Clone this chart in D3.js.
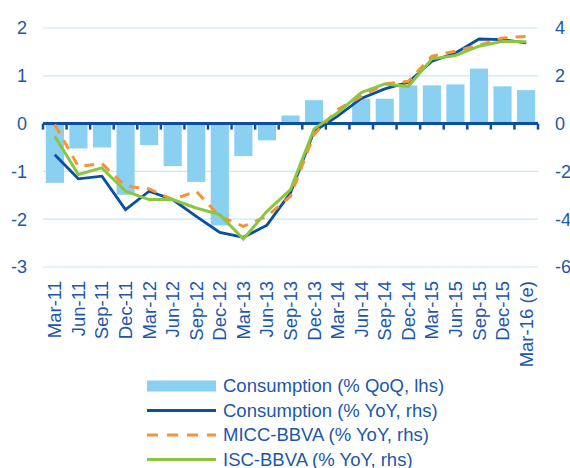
<!DOCTYPE html>
<html>
<head>
<meta charset="utf-8">
<script src="https://cdn.jsdelivr.net/npm/d3@7"></script>
<style>
  body { margin: 0; background: #fff; }
  text { font-family: "Liberation Sans", Arial, sans-serif; fill: #1b57ab; }
</style>
</head>
<body>
<div id="chart"></div>
<script>
// quarters on the x axis
var quarters = ["Mar-11","Jun-11","Sep-11","Dec-11","Mar-12","Jun-12","Sep-12","Dec-12",
  "Mar-13","Jun-13","Sep-13","Dec-13","Mar-14","Jun-14","Sep-14","Dec-14",
  "Mar-15","Jun-15","Sep-15","Dec-15","Mar-16 (e)"];

// consumption % QoQ (lhs)
var consQoQ = [-1.24,-0.52,-0.50,-1.49,-0.45,-0.89,-1.22,-2.13,-0.68,-0.35,0.17,0.49,
  0.0,0.52,0.52,0.80,0.80,0.82,1.15,0.78,0.70];

// consumption % YoY (rhs)
var consYoY = [-1.30,-2.31,-2.20,-3.60,-2.83,-3.18,-3.88,-4.55,-4.76,-4.25,-2.90,-0.32,
  0.31,1.05,1.45,1.73,2.61,2.96,3.54,3.51,3.38];

// MICC-BBVA % YoY (rhs)
var micc = [-0.04,-1.79,-1.67,-2.62,-2.73,-3.18,-2.83,-3.88,-4.30,-3.88,-3.04,-0.46,
  0.59,1.14,1.66,1.77,2.82,3.03,3.28,3.58,3.65];

// ISC-BBVA % YoY (rhs)
var isc = [-0.53,-2.13,-1.85,-2.83,-3.18,-3.18,-3.53,-3.81,-4.83,-3.67,-2.76,-0.22,
  0.45,1.30,1.66,1.56,2.71,2.85,3.24,3.44,3.42];

var leftTicks = [2, 1, 0, -1, -2, -3];
var rightTicks = [4, 2, 0, -2, -4, -6];

var legendItems = [
  {label: "Consumption (% QoQ, lhs)", type: "bar", color: "#8ad0f1"},
  {label: "Consumption (% YoY, rhs)", type: "line", color: "#0b4ea2"},
  {label: "MICC-BBVA (% YoY, rhs)", type: "dash", color: "#f7923a"},
  {label: "ISC-BBVA (% YoY, rhs)", type: "line", color: "#8cc63f"}
];

var width = 570, height = 468;
var plot = {left: 43, right: 538, top: 28, bottom: 267};

var svg = d3.select("#chart").append("svg")
  .attr("width", width)
  .attr("height", height);

var x = d3.scaleBand().domain(quarters).range([plot.left, plot.right]).paddingInner(0.23).paddingOuter(0.12);
var xb = d3.scaleBand().domain(quarters).range([plot.left, plot.right]);
var yL = d3.scaleLinear().domain([-3, 2]).range([plot.bottom, plot.top]);
var yR = d3.scaleLinear().domain([-6, 4]).range([plot.bottom, plot.top]);

// gridlines
svg.selectAll(".grid").data(leftTicks.filter(function(d){ return d !== 0; }))
  .enter().append("line")
  .attr("x1", plot.left).attr("x2", plot.right)
  .attr("y1", function(d){ return yL(d); })
  .attr("y2", function(d){ return yL(d); })
  .attr("stroke", "#c8e8f6").attr("stroke-width", 1.2);

// bars
svg.selectAll(".bar").data(consQoQ).enter().append("rect")
  .attr("x", function(d, i){ return x(quarters[i]); })
  .attr("width", x.bandwidth())
  .attr("y", function(d){ return Math.min(yL(d), yL(0)); })
  .attr("height", function(d){ return Math.abs(yL(d) - yL(0)); })
  .attr("fill", "#8ad0f1");

// zero axis with ticks at category boundaries
svg.append("line")
  .attr("x1", plot.left).attr("x2", plot.right)
  .attr("y1", yL(0)).attr("y2", yL(0))
  .attr("stroke", "#0b4ea2").attr("stroke-width", 3);

var bounds = quarters.map(function(q){ return xb(q); }).concat([plot.right]);
svg.selectAll(".tick").data(bounds).enter().append("line")
  .attr("x1", function(d){ return d; }).attr("x2", function(d){ return d; })
  .attr("y1", yL(0)).attr("y2", yL(0) + 6)
  .attr("stroke", "#0b4ea2").attr("stroke-width", 2.5);

// lines
var line = d3.line()
  .x(function(d, i){ return xb(quarters[i]) + xb.bandwidth() / 2; })
  .y(function(d){ return yR(d); });

svg.append("path").datum(consYoY).attr("d", line)
  .attr("fill", "none").attr("stroke", "#0b4ea2").attr("stroke-width", 2.8);
svg.append("path").datum(micc).attr("d", line)
  .attr("fill", "none").attr("stroke", "#f7923a").attr("stroke-width", 3)
  .attr("stroke-dasharray", "10,8");
svg.append("path").datum(isc).attr("d", line)
  .attr("fill", "none").attr("stroke", "#8cc63f").attr("stroke-width", 3);

// left axis labels
svg.selectAll(".ltick").data(leftTicks).enter().append("text")
  .attr("x", 27).attr("y", function(d){ return yL(d); })
  .attr("dy", "0.35em").attr("text-anchor", "end")
  .style("font-size", "18px")
  .text(function(d){ return d; });

// right axis labels
svg.selectAll(".rtick").data(rightTicks).enter().append("text")
  .attr("x", 555).attr("y", function(d){ return yR(d); })
  .attr("dy", "0.35em").attr("text-anchor", "start")
  .style("font-size", "18px")
  .text(function(d){ return d; });

// x labels
svg.selectAll(".xlab").data(quarters).enter().append("text")
  .attr("transform", function(d){
    return "translate(" + (xb(d) + xb.bandwidth() / 2) + ",281) rotate(-90)";
  })
  .attr("dy", "0.35em").attr("text-anchor", "end")
  .style("font-size", "18.5px")
  .text(function(d){ return d; });

// legend
var lg = svg.selectAll(".legend").data(legendItems).enter().append("g")
  .attr("transform", function(d, i){ return "translate(147," + (386 + i * 24.5) + ")"; });

lg.filter(function(d){ return d.type === "bar"; }).append("rect")
  .attr("x", 0).attr("y", -5.5).attr("width", 69).attr("height", 11)
  .attr("fill", function(d){ return d.color; });

lg.filter(function(d){ return d.type !== "bar"; }).append("line")
  .attr("x1", 0).attr("x2", 69).attr("y1", 0).attr("y2", 0)
  .attr("stroke", function(d){ return d.color; })
  .attr("stroke-width", 3)
  .attr("stroke-dasharray", function(d){ return d.type === "dash" ? "11,9" : null; });

lg.append("text")
  .attr("x", 76).attr("y", 0).attr("dy", "0.35em")
  .style("font-size", "18.5px")
  .text(function(d){ return d.label; });
</script>
</body>
</html>
